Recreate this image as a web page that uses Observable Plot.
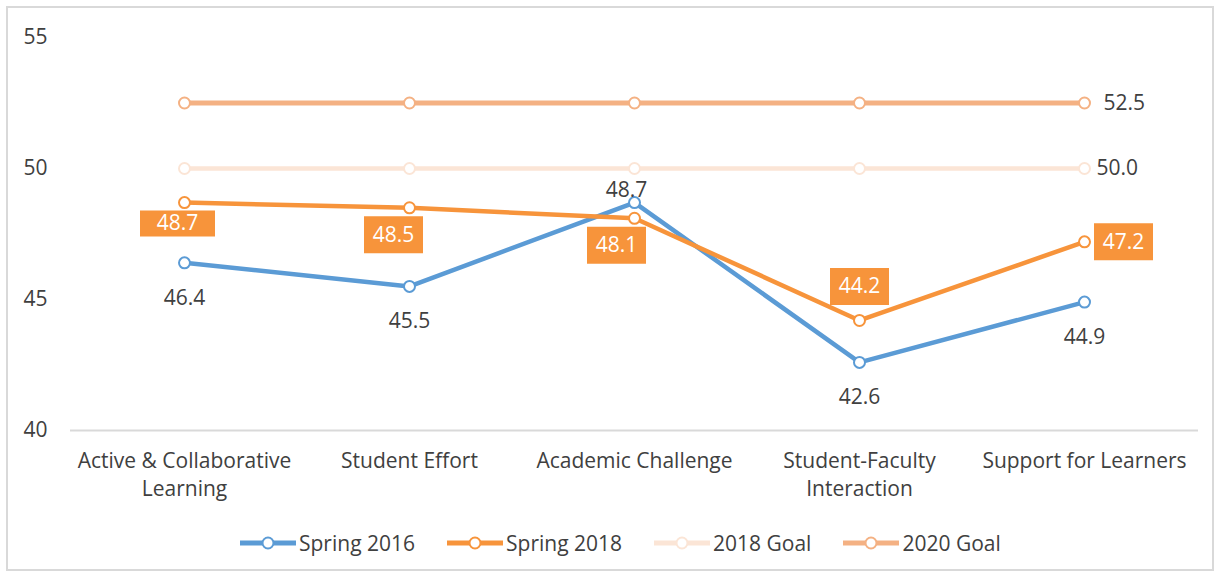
<!DOCTYPE html>
<html>
<head>
<meta charset="utf-8">
<script src="https://cdn.jsdelivr.net/npm/d3@7"></script>
<script src="https://cdn.jsdelivr.net/npm/@observablehq/plot@0.6"></script>
<style>
  html, body { margin: 0; padding: 0; background: #fff; }
  body { width: 1220px; height: 577px; position: relative; overflow: hidden; font-family: "Open Sans", sans-serif; color: #404040; }
  #frame { position: absolute; left: 6px; top: 6px; width: 1204px; height: 561px; border: 2px solid #d9d9d9; }
  #chart { position: absolute; left: 0; top: 0; }
  #legend { position: absolute; left: 240px; top: 529px; display: flex; gap: 32px; font-size: 21px; line-height: 28px; }
  .item { display: flex; align-items: center; gap: 3px; }
</style>
</head>
<body>
<div id="frame"></div>
<div id="chart"></div>
<div id="legend"></div>
<script>
const categories = ["Active & Collaborative Learning", "Student Effort", "Academic Challenge", "Student-Faculty Interaction", "Support for Learners"];
const tickLabels = ["Active & Collaborative\nLearning", "Student Effort", "Academic Challenge", "Student-Faculty\nInteraction", "Support for Learners"];
const spring2016 = [46.4, 45.5, 48.7, 42.6, 44.9];
const spring2018 = [48.7, 48.5, 48.1, 44.2, 47.2];
const goal2018 = [50.0, 50.0, 50.0, 50.0, 50.0];
const goal2020 = [52.5, 52.5, 52.5, 52.5, 52.5];
const yTicks = [40, 45, 50, 55];
const seriesNames = ["Spring 2016", "Spring 2018", "2018 Goal", "2020 Goal"];

const colors = {"Spring 2016": "#5B9BD5", "Spring 2018": "#F7943B", "2018 Goal": "#FBE5D6", "2020 Goal": "#F4B183"};

const table = (vals) => categories.map((c, i) => ({c, v: vals[i], i}));
const t16 = table(spring2016), t18 = table(spring2018), tg18 = table(goal2018), tg20 = table(goal2020);

const fmt = d => d.v.toFixed(1);
const FS = 21;

// label offsets (styling only)
const box18 = [
  {dx: -7, dy: 21, w: 75, h: 26},
  {dx: -16, dy: 27, w: 59, h: 37},
  {dx: -18, dy: 27, w: 59, h: 37},
  {dx: 0, dy: -34, w: 59, h: 37},
  {dx: 39, dy: 0, w: 59, h: 37}
];
const rectSymbol = (w, h) => ({draw(ctx) { ctx.moveTo(-w/2, -h/2); ctx.lineTo(w/2, -h/2); ctx.lineTo(w/2, h/2); ctx.lineTo(-w/2, h/2); ctx.closePath(); }});

function seriesMarks(data, color, width) {
  return [
    Plot.line(data, {x: "c", y: "v", stroke: color, strokeWidth: width}),
    Plot.dot(data, {x: "c", y: "v", r: 5.5, stroke: color, strokeWidth: 2, fill: "white"})
  ];
}

const marks = [
  Plot.ruleY([40], {stroke: "#d9d9d9", strokeWidth: 2}),
  ...seriesMarks(t16, colors["Spring 2016"], 4.5),
  ...seriesMarks(t18, colors["Spring 2018"], 4.5),
  ...seriesMarks(tg18, colors["2018 Goal"], 4.5),
  ...seriesMarks(tg20, colors["2020 Goal"], 5),
  // Spring 2016 labels
  Plot.text(t16.filter(d => d.i !== 2), {x: "c", y: "v", text: fmt, dy: 35, fontSize: FS, fill: "#404040"}),
  Plot.text(t16.filter(d => d.i === 2), {x: "c", y: "v", text: fmt, dy: -12, dx: -8, fontSize: FS, fill: "#404040"}),
  // Spring 2018 boxes + labels
  ...box18.flatMap((b, k) => [
    Plot.dot(t18.filter(d => d.i === k), {x: "c", y: "v", symbol: rectSymbol(b.w, b.h), r: 10, fill: colors["Spring 2018"], stroke: "none", dx: b.dx, dy: b.dy}),
    Plot.text(t18.filter(d => d.i === k), {x: "c", y: "v", text: fmt, fill: "white", fontSize: FS, dx: b.dx, dy: b.dy})
  ]),
  // Goal labels (last point only)
  Plot.text(tg20.filter(d => d.i === 4), {x: "c", y: "v", text: fmt, textAnchor: "start", dx: 19, fontSize: FS, fill: "#404040"}),
  Plot.text(tg18.filter(d => d.i === 4), {x: "c", y: "v", text: fmt, textAnchor: "start", dx: 12, fontSize: FS, fill: "#404040"}),
  Plot.axisY({ticks: yTicks, tickSize: 0, tickPadding: 23, fontSize: FS, label: null}),
  Plot.axisX({tickSize: 0, tickPadding: 18, fontSize: FS, lineHeight: 1.33, label: null,
    tickFormat: c => tickLabels[categories.indexOf(c)]})
];

const chart = Plot.plot({
  width: 1220,
  height: 520,
  marginLeft: 70,
  marginRight: 22,
  marginTop: 37,
  marginBottom: 90,
  style: {fontFamily: "Open Sans", fontSize: "21px", color: "#404040", background: "transparent", overflow: "visible"},
  x: {type: "point", domain: categories, padding: 0.5, label: null},
  y: {domain: [40, 55], label: null},
  marks
});
document.getElementById("chart").appendChild(chart);

// legend
const legend = document.getElementById("legend");
for (const name of seriesNames) {
  const item = document.createElement("div");
  item.className = "item";
  const sw = d3.create("svg").attr("width", 56).attr("height", 16);
  sw.append("line").attr("x1", 0).attr("x2", 56).attr("y1", 8).attr("y2", 8)
    .attr("stroke", colors[name]).attr("stroke-width", 5).attr("stroke-linecap", "round");
  sw.append("circle").attr("cx", 28).attr("cy", 8).attr("r", 5.5)
    .attr("fill", "white").attr("stroke", colors[name]).attr("stroke-width", 2);
  item.appendChild(sw.node());
  const label = document.createElement("span");
  label.textContent = name;
  item.appendChild(label);
  legend.appendChild(item);
}
</script>
</body>
</html>
